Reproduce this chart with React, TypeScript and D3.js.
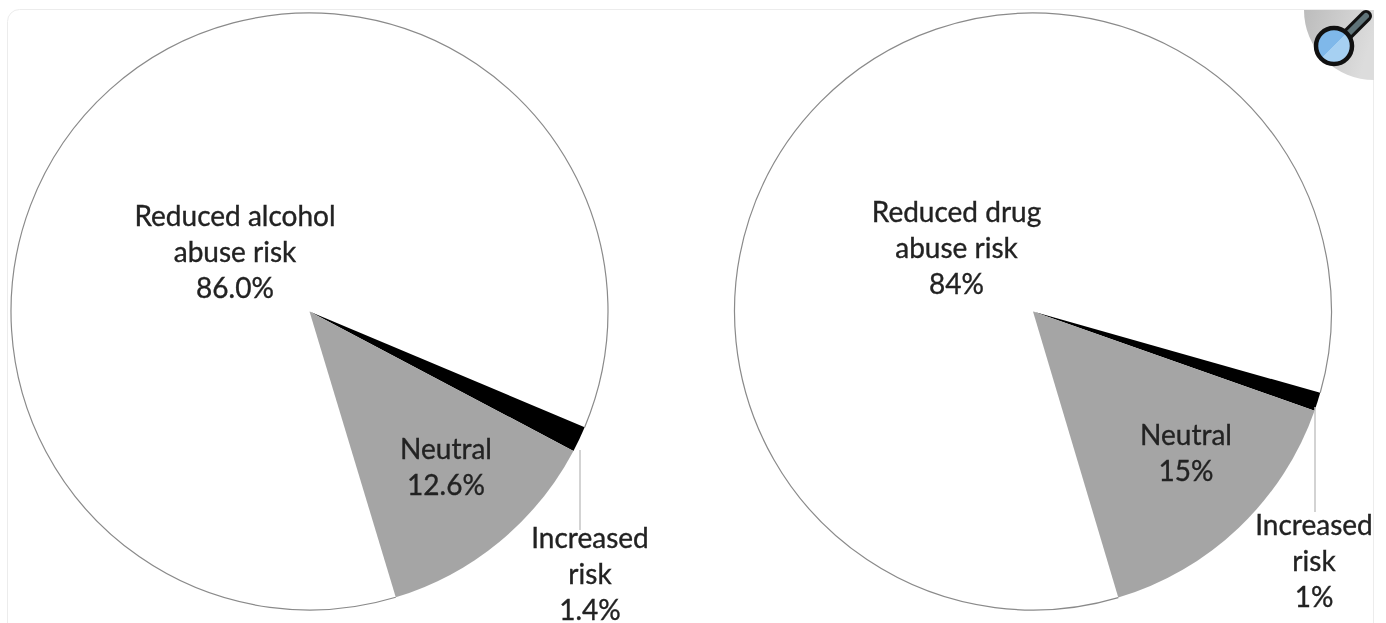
import React from "react";
import * as d3 from "d3";

const W = 1386, H = 623;
const categories = ["Reduced", "Increased", "Neutral"];
const alcoholValues = [86.0, 1.4, 12.6];
const drugValues = [84, 1, 15];
const sliceColors = ["#ffffff", "#000000", "#a5a5a5"];
const alcoholLabels = [
  { lines: ["Reduced alcohol", "abuse risk", "86.0%"], x: 235, y: 226 },
  { lines: ["Neutral", "12.6%"], x: 446, y: 459 },
  { lines: ["Increased", "risk", "1.4%"], x: 590, y: 548 },
];
const drugLabels = [
  { lines: ["Reduced drug", "abuse risk", "84%"], x: 956.5, y: 221.5 },
  { lines: ["Neutral", "15%"], x: 1186, y: 444.5 },
  { lines: ["Increased", "risk", "1%"], x: 1314, y: 535 },
];
const deg = Math.PI / 180;

function Pie({ cx, cy, r, values, start, labels, leader }: any) {
  const pie = d3.pie<number>().sort(null).startAngle(start * deg).endAngle((start + 360) * deg);
  const arc = d3.arc<d3.PieArcDatum<number>>().innerRadius(0).outerRadius(r);
  const arcs = pie(values);
  return (
    <g>
      {arcs.map((a, i) => (
        <path key={categories[i]} d={arc(a) as string} transform={`translate(${cx},${cy})`} fill={sliceColors[i]} stroke="none" />
      ))}
      <path d={d3.arc()({ innerRadius: r, outerRadius: r, startAngle: arcs[0].startAngle, endAngle: arcs[0].endAngle }) as string}
        transform={`translate(${cx},${cy})`} fill="none" stroke="#8a8a8a" strokeWidth={1.2} />
      <line x1={leader[0]} y1={leader[1]} x2={leader[0]} y2={leader[2]} stroke="#c4c4c4" strokeWidth={1.5} />
      {labels.map((l: any) => (
        <text key={l.lines[0]} textAnchor="middle" fontFamily="Lato, 'Open Sans', sans-serif" fontSize={28} fill="#222" stroke="#222" strokeWidth={0.35} filter="url(#soft)">
          {l.lines.map((t: string, i: number) => (
            <tspan key={t} x={l.x} y={l.y + i * 36}>{t}</tspan>
          ))}
        </text>
      ))}
    </g>
  );
}

export default function App() {
  return (
    <svg width={W} height={H} style={{ position: "absolute", left: 0, top: 0, background: "#fff" }}>
      <defs>
        <filter id="soft" x="-5%" y="-5%" width="110%" height="110%"><feGaussianBlur stdDeviation="0.45" /></filter>
        <linearGradient id="corner" x1="0" y1="0" x2="1" y2="0.3">
          <stop offset="0" stopColor="#bcbcbc" /><stop offset="1" stopColor="#dcdcdc" />
        </linearGradient>
        <linearGradient id="lens" x1="0" y1="0" x2="1" y2="1">
          <stop offset="0.5" stopColor="#7fb8ea" /><stop offset="0.5" stopColor="#a6d0f2" />
        </linearGradient>
      </defs>
      <rect x={7.5} y={9.5} width={1366} height={640} rx={12} fill="#fff" stroke="#ececec" strokeWidth={1} />
      <Pie cx={309.5} cy={311.5} r={298.5} values={alcoholValues} start={163.2} labels={alcoholLabels} leader={[580, 450, 530]} />
      <Pie cx={1033} cy={311.5} r={298.5} values={drugValues} start={163.4} labels={drugLabels} leader={[1315, 407, 512]} />
      <path d="M1304,10 H1374 V80 A70,70 0 0 1 1304,10 Z" fill="url(#corner)" />
      <line x1={1346} y1={36} x2={1366} y2={16} stroke="#111" strokeWidth={12} strokeLinecap="round" />
      <line x1={1346} y1={36} x2={1366} y2={16} stroke="#5f7378" strokeWidth={6} strokeLinecap="round" />
      <circle cx={1334} cy={46} r={18} fill="url(#lens)" stroke="#111" strokeWidth={4.5} />
    </svg>
  );
}
